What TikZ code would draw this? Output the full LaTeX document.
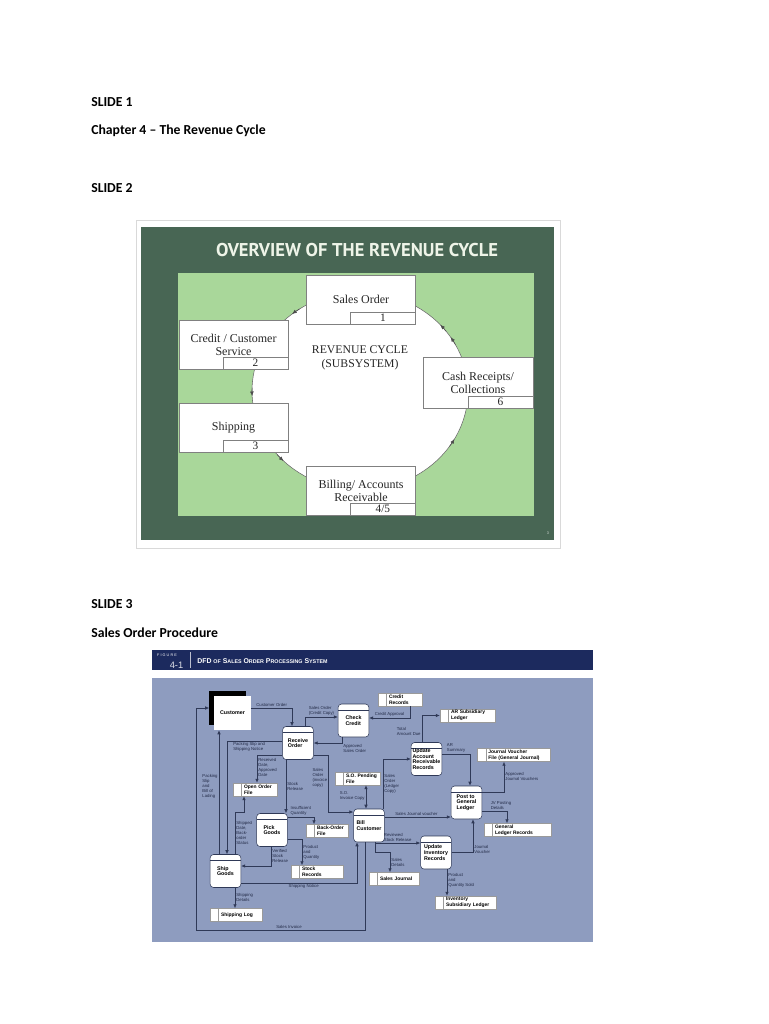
\documentclass[tikz,border=0pt]{standalone}
\usepackage{fontspec}
\setmainfont{Carlito}
\newfontfamily\slidefont{Liberation Serif}
\newfontfamily\titlefont{PT Sans}
\newfontfamily\dfdfont{Liberation Sans}
\newfontfamily\figfont[LetterSpace=30]{Liberation Sans}
\usepackage{xcolor}
\definecolor{slidedark}{HTML}{486654}
\definecolor{slidelight}{HTML}{A9D79A}
\definecolor{slidetitle}{HTML}{EEF4E8}
\definecolor{figband}{HTML}{1C2A5E}
\definecolor{figbody}{HTML}{8E9CBF}
\definecolor{flowline}{HTML}{2F3957}
\definecolor{lbltext}{HTML}{232B47}
\definecolor{storeline}{HTML}{9A9A9A}
\usepackage{tikz}
\usetikzlibrary{positioning, arrows.meta, calc, shadows}

\newcommand\dfdname{\dfdfont\bfseries\fontsize{4}{4.3}\selectfont}
\newcommand\storename{\dfdfont\bfseries\fontsize{3.7}{4.2}\selectfont}
\newcommand\dfdlbl{\dfdfont\fontsize{3.2}{3.8}\selectfont}
\newcommand\dfdsc[1]{{\fontsize{4}{4}\selectfont #1}}

\begin{document}
\begin{tikzpicture}[x=0.75pt, y=-0.75pt,
  >={Latex[length=3pt,width=2.6pt]},
  heading/.style={font=\fontsize{10.3}{12}\selectfont\bfseries, anchor=west, inner sep=0pt},
  slidebox/.style={
    draw=black!50, fill=white, line width=0.4pt,
    minimum width=81.5pt, minimum height=37pt,
    font=\slidefont\fontsize{9}{9.75}\selectfont, align=center, text=black!85
  },
  numbox/.style={
    draw=black!50, fill=white, line width=0.4pt, anchor=south east,
    minimum width=48.75pt, minimum height=9pt, inner sep=0pt,
    font=\slidefont\fontsize{8.5}{9}\selectfont, text=black!85
  },
  cyclearrow/.style={-{Latex[length=3.5pt,width=2.8pt]}, black!70, line width=0.4pt},
  process/.style={
    draw=flowline, fill=white, line width=0.4pt, rounded corners=2.5pt,
    minimum width=23pt, minimum height=24.75pt, inner sep=0.5pt,
    font=\dfdname, align=left,
    path picture={\draw[flowline, line width=0.3pt]
      ([yshift=-4.5pt]path picture bounding box.north west) --
      ([yshift=-4.5pt]path picture bounding box.north east);}
  },
  store/.style={
    draw=storeline, fill=white, line width=0.3pt,
    minimum height=9.75pt, inner xsep=0pt, inner ysep=0.5pt,
    text width=#1, align=left, font=\storename,
    execute at begin node={\leftskip=8.25pt},
    path picture={\draw[storeline, line width=0.4pt]
      ([xshift=6.5pt]path picture bounding box.north west) --
      ([xshift=6.5pt]path picture bounding box.south west);}
  },
  entity/.style={
    fill=white, minimum width=27.75pt, minimum height=25.5pt, font=\dfdname,
    general shadow={fill=black, shadow xshift=-3.75pt, shadow yshift=3.75pt}
  },
  flow/.style={->, draw=flowline, line width=0.5pt},
  lbl/.style={font=\dfdlbl, text=lbltext, inner sep=0.8pt, align=left}
]

\useasboundingbox (0,0) rectangle (768,1024);
\fill[white] (0,0) rectangle (768,1024);

% ---- SLIDE 1 ----
\node[heading] (s1)  at (91,102) {SLIDE 1};
\node[heading] (ch4) at (91,131) {Chapter 4 – The Revenue Cycle};

% ---- SLIDE 2 ----
\node[heading] (s2)  at (91,188) {SLIDE 2};
\begin{scope}
  \fill[white, draw=black!15] (136,220) rectangle (560,548);
  \fill[slidedark] (141,227) rectangle (554,540);
  \fill[slidelight] (178,273) rectangle (534,516);
  \node[font=\titlefont\bfseries\fontsize{13.9}{15}\selectfont, text=slidetitle]
    (ovtitle) at (357,250) {OVERVIEW OF THE REVENUE CYCLE};

  \draw[black!60, line width=0.4pt, fill=white] (360,391) ellipse [x radius=108, y radius=99];
  \node[font=\slidefont\fontsize{8.8}{10.5}\selectfont, align=center, text=black!85]
    (rc) at (360,358) {REVENUE CYCLE\\(SUBSYSTEM)};

  \node[slidebox] (so)  at (361,299.5)   {Sales Order};
  \node[slidebox] (ccs) at (233.5,344.5) {Credit / Customer\\Service};
  \node[slidebox] (shp) at (233.5,427.5) {Shipping};
  \node[slidebox] (bar) at (361,490.5)   {Billing/ Accounts\\Receivable};
  \node[slidebox, minimum width=82.5pt, minimum height=38.25pt]
                  (cr)  at (478,382.5)   {Cash Receipts/\\Collections};

  \node[numbox] (n1) at (so.south east)  {1};
  \node[numbox] (n2) at (ccs.south east) {2};
  \node[numbox] (n3) at (shp.south east) {3};
  \node[numbox] (n4) at (bar.south east) {4/5};
  \node[numbox] (n6) at (cr.south east)  {6};

  % arrow marks round the cycle
  \draw[cyclearrow] (360,391) ++(236:108 and 99) arc[start angle=236, end angle=231, x radius=108, y radius=99];
  \draw[cyclearrow] (360,391) ++(182:108 and 99) arc[start angle=182, end angle=177, x radius=108, y radius=99];
  \draw[cyclearrow] (360,391) ++(140:108 and 99) arc[start angle=140, end angle=135, x radius=108, y radius=99];
  \draw[cyclearrow] (360,391) ++(34:108 and 99)  arc[start angle=34, end angle=29, x radius=108, y radius=99];
  \draw[cyclearrow] (360,391) ++(-28:108 and 99) arc[start angle=-28, end angle=-33, x radius=108, y radius=99];
  \draw[cyclearrow] (360,391) ++(-37:108 and 99) arc[start angle=-37, end angle=-42, x radius=108, y radius=99];

  \node[font=\fontsize{3}{3}\selectfont, text=white!80!slidedark] (pgno) at (548,533) {3};
\end{scope}

% ---- SLIDE 3 ----
\node[heading] (s3)  at (91,604) {SLIDE 3};
\node[heading] (sop) at (91,633) {Sales Order Procedure};

\begin{scope}
  \fill[figband] (152,650) rectangle (593,670);
  \fill[figbody] (152,678) rectangle (593,942);
  \draw[white!70!figband, line width=0.5pt] (190,652) -- (190,668);
  \node[font=\figfont\fontsize{2.8}{3}\selectfont, text=white] (figword) at (167,655) {FIGURE};
  \node[font=\dfdfont\fontsize{7}{8}\selectfont, text=white!85!figband] (fignum) at (176.5,665) {4-1};
  \node[font=\dfdfont\bfseries\fontsize{5.2}{6}\selectfont, text=white, anchor=west, inner sep=0pt]
    (figtitle) at (197,661) {DFD \dfdsc{OF} S\dfdsc{ALES} O\dfdsc{RDER} P\dfdsc{ROCESSING} S\dfdsc{YSTEM}};

  % processes, entity and data stores
  \node[entity]  (cust) at (232.5,713) {Customer};
  \node[process] (ro)  at (298,743)     {Receive\\Order};
  \node[process] (cc)  at (353.5,720.5) {Check\\Credit};
  \node[process] (uar) at (426.5,759)   {Update\\Account\\Receivable\\Records};
  \node[process] (pgl) at (466.5,802.5) {Post to\\General\\Ledger};
  \node[process] (bc)  at (369,825.5)   {Bill\\Customer};
  \node[process] (uir) at (436,852.5)   {Update\\Inventory\\Records};
  \node[process] (pg)  at (272,830)     {Pick\\Goods};
  \node[process] (sg)  at (225.5,871)   {Ship\\Goods};

  \node[store=33pt]    (crec) at (400,699.5)   {Credit\\Records};
  \node[store=41.25pt] (arsl) at (467.5,715.5) {AR Subsidiary\\Ledger};
  \node[store=55pt]    (jvf)  at (514,755)     {Journal Voucher\\File (General Journal)};
  \node[store=33.75pt] (sopf) at (357.5,778.5) {S.O. Pending\\File};
  \node[store=50.25pt] (glr)  at (517.5,830)   {General\\Ledger Records};
  \node[store=37.5pt]  (sj)   at (394,879)     {Sales Journal};
  \node[store=45.75pt] (isl)  at (465.5,902.5) {Inventory\\Subsidiary Ledger};
  \node[store=33pt]    (oof)  at (255,789.5)   {Open Order\\File};
  \node[store=31.5pt]  (bof)  at (327,831)     {Back-Order\\File};
  \node[store=39pt]    (sr)   at (317,872)     {Stock\\Records};
  \node[store=39pt]    (sl)   at (236,915)     {Shipping Log};

  % data flows
  \draw[flow] ($(cust.east)+(0,-5)$) -| ($(ro.north)+(-6,0)$)
    node[lbl, above, pos=0.25] {Customer Order};
  \draw[flow] ($(ro.north)+(7,0)$) |- ($(cc.west)+(0,-3.5)$)
    node[lbl, above, pos=0.75] {Sales Order\\(Credit Copy)};
  \draw[flow] ($(crec.south)+(10,0)$) |- ($(cc.east)+(0,-2.5)$)
    node[lbl, above, pos=0.75] {Credit Approval};
  \draw[flow] ($(cc.south)+(-11.5,0)$) |- (ro.east)
    node[lbl, below right, pos=0.5] {Approved\\Sales Order};
  \draw[flow] ($(ro.west)+(0,-2)$) -| ($(sg.north)+(1.5,0)$)
    node[lbl, below, pos=0.3] {Packing Slip and\\Shipping Notice};
  \draw[flow] ($(ro.west)+(0,12)$) -| ($(oof.north)+(2,0)$)
    node[lbl, right, pos=0.72] {Received\\Date,\\Approved\\Date};
  \draw[flow] ($(ro.south)+(-12,0)$) -- ($(pg.north)+(14,0)$)
    node[lbl, right, pos=0.5] {Stock\\Release};
  \draw[flow] ($(ro.east)+(0,12)$) -- ++(15,0) |- ($(bc.west)+(0,-13.5)$)
    node[lbl, left, pos=0.2] {Sales\\Order\\(invoice\\copy)};
  \draw[flow, <->] ($(sopf.south)+(8.5,0)$) -- ($(bc.north)+(-3,0)$)
    node[lbl, left, pos=0.45] {S.O.\\Invoice Copy};
  \draw[flow] ($(bc.north)+(14,0)$) |- (uar.west)
    node[lbl, right, pos=0.25] {Sales\\Order\\(Ledger\\Copy)};
  \draw[flow] ($(uar.north)+(-4.5,0)$) |- (arsl.west)
    node[lbl, left, pos=0.2] {Total\\Amount Due};
  \draw[flow] ($(uar.east)+(0,-5)$) -| ($(pgl.north)+(3.5,0)$)
    node[lbl, above, pos=0.25] {AR\\Summary};
  \draw[flow] ($(pgl.east)+(0,-10.5)$) -| ($(jvf.south)+(-10,0)$)
    node[lbl, right, pos=0.75] {Approved\\Journal Vouchers};
  \draw[flow] ($(pgl.east)+(0,8.5)$) -| ($(glr.north)+(-10.5,0)$)
    node[lbl, above, pos=0.38] {JV Posting\\Details};
  \draw[flow] ($(bc.east)+(0,-8.5)$) -- ($(pgl.west)+(0,14.5)$)
    node[lbl, above, pos=0.48] {Sales Journal voucher};
  \draw[flow] ($(bc.south)+(6,0)$) |- ($(uir.west)+(0,-9.5)$)
    node[lbl, above, pos=0.75] {Reviewed\\Stock Release};
  \draw[flow] ($(bc.south)+(6,0)$) -- ++(0,10) -| ($(sj.north)+(-4,0)$)
    node[lbl, right, pos=0.75] {Sales\\Details};
  \draw[flow] (uir.east) -| ($(pgl.south)+(6.5,0)$)
    node[lbl, right, pos=0.55] {Journal\\Voucher};
  \draw[flow] ($(uir.south)+(11,0)$) -- ($(isl.north)+(-18.5,0)$)
    node[lbl, right, pos=0.42] {Product\\and\\Quantity Sold};
  \draw[flow] ($(pg.east)+(0,-13)$) -| ($(bof.north)+(-13,0)$)
    node[lbl, above, pos=0.25] {Insufficient\\Quantity};
  \draw[flow] ($(pg.east)+(0,9)$) -| ($(sr.north)+(-15,0)$)
    node[lbl, right, pos=0.75] {Product\\and\\Quantity};
  \draw[flow] ($(pg.south)+(-1,0)$) |- ($(sg.east)+(0,-5)$)
    node[lbl, right, pos=0.25] {Verified\\Stock\\Release};
  \draw[flow] ($(sg.north)+(9.5,0)$) -- ++(0,-42)
    node[lbl, right, pos=0.5] {Shipped\\Date,\\Back-\\order\\Status}
    -| ($(oof.south)+(-11,0)$);
  \draw[flow] ($(sg.south)+(9.5,0)$) -- ($(sl.north)+(-1,0)$)
    node[lbl, right, pos=0.45] {Shipping\\Details};
  \draw[flow] ($(sg.east)+(0,12)$) -| ($(bc.south)+(-12,0)$)
    node[lbl, below, pos=0.27] {Shipping Notice};
  \draw[flow] ($(bc.south)+(-4,0)$) -- ++(0,88) -- ++(-169,0)
    node[lbl, above, pos=0.45] {Sales Invoice}
    |- ($(cust.west)+(-4.5,-5)$);
  \draw[flow] ($(sg.north)+(-6.5,0)$) -- ($(cust.south)+(-13.5,0)$)
    node[lbl, left, pos=0.55] {Packing\\Slip\\and\\Bill of\\Lading};
\end{scope}

\end{tikzpicture}
\end{document}
